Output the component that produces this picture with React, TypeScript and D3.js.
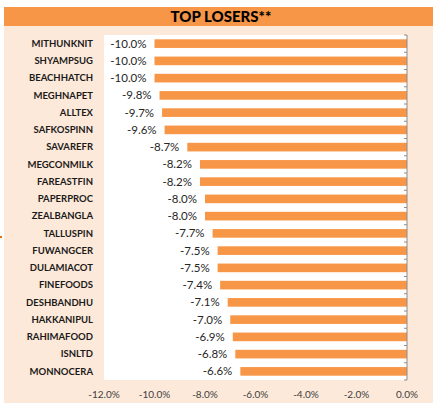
import React from "react";
import * as d3 from "d3";

const categories = [
  "MITHUNKNIT", "SHYAMPSUG", "BEACHHATCH", "MEGHNAPET", "ALLTEX", "SAFKOSPINN",
  "SAVAREFR", "MEGCONMILK", "FAREASTFIN", "PAPERPROC", "ZEALBANGLA", "TALLUSPIN",
  "FUWANGCER", "DULAMIACOT", "FINEFOODS", "DESHBANDHU", "HAKKANIPUL", "RAHIMAFOOD",
  "ISNLTD", "MONNOCERA",
];
const values = [
  -10.0, -10.0, -10.0, -9.8, -9.7, -9.6, -8.7, -8.2, -8.2, -8.0, -8.0, -7.7,
  -7.5, -7.5, -7.4, -7.1, -7.0, -6.9, -6.8, -6.6,
];
const xTicks = [-12, -10, -8, -6, -4, -2, 0];
const title = "TOP LOSERS**";

const W = 433;
const H = 403;
const plot = { left: 104, right: 407, top: 35, bottom: 380 };
const ORANGE = "#F79646";
const PEACH = "#FDE9D9";
const FONT = "Lato, 'Open Sans', sans-serif";

export default function App() {
  const x = d3.scaleLinear().domain([-12, 0]).range([plot.left, plot.right]);
  const y = d3
    .scaleBand<string>()
    .domain(categories)
    .range([plot.top, plot.bottom])
    .paddingInner(0.5)
    .paddingOuter(0.25);
  const step = y.step();
  const fmt = (v: number) => `${v.toFixed(1)}%`;

  return (
    <svg
      width={W}
      height={H}
      style={{ position: "absolute", left: 0, top: 0, display: "block" }}
    >
      <rect x={0} y={0} width={W} height={H} fill="#ffffff" />
      <rect x={4} y={26} width={W - 4} height={H - 26} fill={PEACH} />
      <rect x={4} y={7} width={W - 4} height={19} fill={ORANGE} />
      <text
        x={221}
        y={21.5}
        textAnchor="middle"
        fontFamily={FONT}
        fontWeight={900}
        fontSize={15}
        fill="#000"
      >
        {title}
      </text>
      <rect x={0} y={236} width={2} height={2} fill="#E46C0A" />

      <rect
        x={plot.left}
        y={plot.top}
        width={plot.right - plot.left}
        height={plot.bottom - plot.top}
        fill="#ffffff"
      />

      {categories.map((c, i) => {
        const v = values[i];
        const by = y(c)!;
        const bx = x(v);
        return (
          <g key={c}>
            <rect
              x={bx}
              y={by}
              width={x(0) - bx}
              height={y.bandwidth()}
              fill={ORANGE}
            />
            <text
              x={bx - 8}
              y={by + y.bandwidth() / 2}
              dy="0.35em"
              textAnchor="end"
              fontFamily={FONT}
              fontSize={11.5}
              fill="#262626"
            >
              {fmt(v)}
            </text>
            <text
              x={93}
              y={by + y.bandwidth() / 2}
              dy="0.35em"
              textAnchor="end"
              fontFamily={FONT}
              fontWeight={700}
              fontSize={9.5}
              fill="#1a1a1a"
            >
              {c}
            </text>
          </g>
        );
      })}

      {/* right axis */}
      <line
        x1={plot.right}
        x2={plot.right}
        y1={plot.top}
        y2={plot.bottom}
        stroke="#8c8c8c"
        strokeWidth={1}
      />
      {d3.range(categories.length + 1).map((i) => {
        const ty = plot.top + i * step;
        return (
          <line
            key={i}
            x1={plot.right - 3}
            x2={plot.right}
            y1={ty}
            y2={ty}
            stroke="#8c8c8c"
            strokeWidth={1}
          />
        );
      })}

      {xTicks.map((t) => (
        <text
          key={t}
          x={x(t)}
          y={394}
          dy="0.35em"
          textAnchor="middle"
          fontFamily={FONT}
          fontSize={10}
          fill="#404040"
        >
          {fmt(t)}
        </text>
      ))}
    </svg>
  );
}
